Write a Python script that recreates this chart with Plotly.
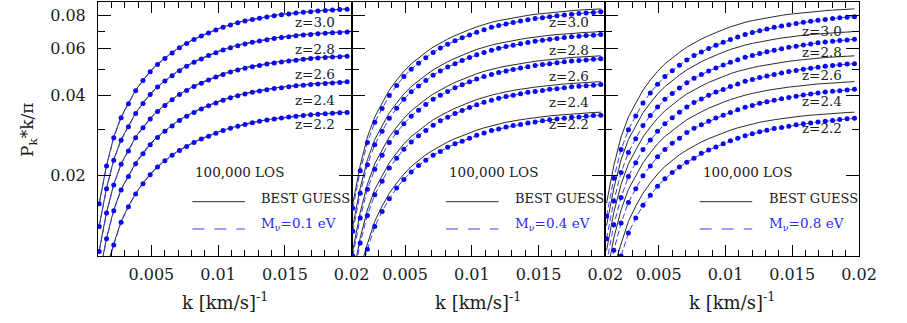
import math

import plotly.graph_objects as go

# k grid (km/s)^-1, same for every curve
K = [0.00109, 0.00164, 0.00218, 0.00273, 0.00328, 0.00382, 0.00437, 0.00491,
     0.00546, 0.00601, 0.00655, 0.00710, 0.00764, 0.00819, 0.00874, 0.00928,
     0.00983, 0.01037, 0.01092, 0.01147, 0.01201, 0.01256, 0.01310, 0.01365,
     0.01420, 0.01474, 0.01529, 0.01583, 0.01638, 0.01693, 0.01747, 0.01802,
     0.01856, 0.01911, 0.01966]

Z_LABELS = ["z=3.0", "z=2.8", "z=2.6", "z=2.4", "z=2.2"]
MNU_LABELS = ["0.1", "0.4", "0.8"]

# BEST GUESS (black lines), same in the three panels
BEST_Z30 = [0.0158, 0.0219, 0.0280, 0.0333, 0.0375, 0.0420, 0.0458, 0.0494, 0.0527, 0.0555,
            0.0582, 0.0609, 0.0632, 0.0653, 0.0673, 0.0692, 0.0709, 0.0726, 0.0741, 0.0755,
            0.0766, 0.0776, 0.0785, 0.0794, 0.0802, 0.0809, 0.0815, 0.0821, 0.0826, 0.0831,
            0.0835, 0.0839, 0.0842, 0.0845, 0.0848]
BEST_Z28 = [0.0130, 0.0180, 0.0230, 0.0274, 0.0308, 0.0345, 0.0376, 0.0406, 0.0433, 0.0456,
            0.0478, 0.0500, 0.0519, 0.0537, 0.0553, 0.0569, 0.0583, 0.0597, 0.0609, 0.0620,
            0.0629, 0.0638, 0.0645, 0.0652, 0.0659, 0.0665, 0.0670, 0.0675, 0.0679, 0.0683,
            0.0687, 0.0689, 0.0692, 0.0694, 0.0697]
BEST_Z26 = [0.0105, 0.0146, 0.0186, 0.0222, 0.0250, 0.0280, 0.0305, 0.0329, 0.0351, 0.0370,
            0.0388, 0.0406, 0.0421, 0.0435, 0.0449, 0.0461, 0.0472, 0.0484, 0.0494, 0.0503,
            0.0510, 0.0517, 0.0523, 0.0529, 0.0534, 0.0539, 0.0543, 0.0547, 0.0550, 0.0554,
            0.0557, 0.0559, 0.0561, 0.0563, 0.0565]
BEST_Z24 = [0.0084, 0.0117, 0.0149, 0.0178, 0.0200, 0.0224, 0.0244, 0.0264, 0.0281, 0.0296,
            0.0310, 0.0325, 0.0337, 0.0348, 0.0359, 0.0369, 0.0378, 0.0387, 0.0395, 0.0402,
            0.0408, 0.0414, 0.0419, 0.0423, 0.0428, 0.0431, 0.0434, 0.0438, 0.0440, 0.0443,
            0.0445, 0.0447, 0.0449, 0.0450, 0.0452]
BEST_Z22 = [0.0065, 0.0090, 0.0111, 0.0135, 0.0154, 0.0172, 0.0188, 0.0203, 0.0217, 0.0229,
            0.0240, 0.0250, 0.0259, 0.0268, 0.0276, 0.0283, 0.0290, 0.0297, 0.0303, 0.0309,
            0.0313, 0.0318, 0.0322, 0.0325, 0.0328, 0.0331, 0.0334, 0.0336, 0.0338, 0.0340,
            0.0342, 0.0343, 0.0345, 0.0346, 0.0347]

# M_nu = 0.1 eV (blue dots, left panel)
MNU01_Z30 = [0.0157, 0.0218, 0.0278, 0.0331, 0.0373, 0.0418, 0.0456, 0.0492, 0.0524, 0.0552,
             0.0579, 0.0606, 0.0629, 0.0650, 0.0670, 0.0689, 0.0706, 0.0723, 0.0738, 0.0752,
             0.0763, 0.0773, 0.0782, 0.0791, 0.0799, 0.0806, 0.0812, 0.0818, 0.0823, 0.0828,
             0.0832, 0.0836, 0.0840, 0.0843, 0.0846]
MNU01_Z28 = [0.0129, 0.0179, 0.0229, 0.0272, 0.0306, 0.0343, 0.0374, 0.0404, 0.0431, 0.0454,
             0.0476, 0.0497, 0.0516, 0.0534, 0.0550, 0.0566, 0.0580, 0.0594, 0.0606, 0.0617,
             0.0626, 0.0635, 0.0642, 0.0649, 0.0656, 0.0662, 0.0667, 0.0672, 0.0676, 0.0680,
             0.0684, 0.0687, 0.0690, 0.0692, 0.0695]
MNU01_Z26 = [0.0104, 0.0145, 0.0185, 0.0221, 0.0248, 0.0278, 0.0303, 0.0327, 0.0349, 0.0368,
             0.0386, 0.0404, 0.0419, 0.0433, 0.0446, 0.0458, 0.0470, 0.0481, 0.0491, 0.0500,
             0.0507, 0.0514, 0.0520, 0.0526, 0.0531, 0.0536, 0.0540, 0.0544, 0.0548, 0.0552,
             0.0555, 0.0557, 0.0559, 0.0561, 0.0563]
MNU01_Z24 = [0.0083, 0.0116, 0.0148, 0.0177, 0.0199, 0.0222, 0.0242, 0.0262, 0.0279, 0.0294,
             0.0308, 0.0323, 0.0335, 0.0346, 0.0357, 0.0367, 0.0376, 0.0385, 0.0393, 0.0400,
             0.0406, 0.0412, 0.0417, 0.0421, 0.0426, 0.0429, 0.0432, 0.0436, 0.0438, 0.0441,
             0.0443, 0.0445, 0.0447, 0.0449, 0.0451]
MNU01_Z22 = [0.0065, 0.0089, 0.0110, 0.0134, 0.0153, 0.0171, 0.0187, 0.0202, 0.0216, 0.0228,
             0.0239, 0.0249, 0.0258, 0.0267, 0.0275, 0.0282, 0.0289, 0.0296, 0.0302, 0.0307,
             0.0312, 0.0317, 0.0321, 0.0324, 0.0327, 0.0330, 0.0333, 0.0335, 0.0337, 0.0339,
             0.0341, 0.0342, 0.0344, 0.0345, 0.0346]

# M_nu = 0.4 eV (middle panel)
MNU04_Z30 = [0.0151, 0.0209, 0.0267, 0.0318, 0.0358, 0.0401, 0.0437, 0.0472, 0.0503, 0.0530,
             0.0556, 0.0582, 0.0604, 0.0624, 0.0643, 0.0661, 0.0677, 0.0693, 0.0708, 0.0723,
             0.0734, 0.0744, 0.0754, 0.0763, 0.0772, 0.0780, 0.0786, 0.0793, 0.0799, 0.0805,
             0.0810, 0.0815, 0.0818, 0.0822, 0.0827]
MNU04_Z28 = [0.0124, 0.0172, 0.0220, 0.0262, 0.0294, 0.0329, 0.0359, 0.0388, 0.0414, 0.0435,
             0.0456, 0.0478, 0.0496, 0.0513, 0.0528, 0.0543, 0.0557, 0.0570, 0.0582, 0.0593,
             0.0603, 0.0612, 0.0619, 0.0627, 0.0634, 0.0641, 0.0647, 0.0652, 0.0657, 0.0662,
             0.0666, 0.0669, 0.0673, 0.0675, 0.0680]
MNU04_Z26 = [0.0100, 0.0139, 0.0178, 0.0212, 0.0239, 0.0267, 0.0291, 0.0314, 0.0335, 0.0353,
             0.0371, 0.0388, 0.0402, 0.0415, 0.0429, 0.0440, 0.0451, 0.0462, 0.0472, 0.0481,
             0.0489, 0.0496, 0.0502, 0.0508, 0.0514, 0.0520, 0.0524, 0.0528, 0.0532, 0.0537,
             0.0540, 0.0543, 0.0545, 0.0548, 0.0551]
MNU04_Z24 = [0.0080, 0.0112, 0.0142, 0.0170, 0.0191, 0.0214, 0.0233, 0.0252, 0.0268, 0.0283,
             0.0296, 0.0310, 0.0322, 0.0332, 0.0343, 0.0352, 0.0361, 0.0370, 0.0378, 0.0385,
             0.0391, 0.0397, 0.0402, 0.0407, 0.0412, 0.0415, 0.0419, 0.0423, 0.0425, 0.0429,
             0.0432, 0.0434, 0.0436, 0.0438, 0.0441]
MNU04_Z22 = [0.0062, 0.0086, 0.0106, 0.0129, 0.0147, 0.0164, 0.0180, 0.0194, 0.0207, 0.0219,
             0.0229, 0.0239, 0.0247, 0.0256, 0.0264, 0.0270, 0.0277, 0.0284, 0.0290, 0.0296,
             0.0300, 0.0305, 0.0309, 0.0312, 0.0316, 0.0319, 0.0322, 0.0325, 0.0327, 0.0329,
             0.0332, 0.0333, 0.0335, 0.0337, 0.0338]

# M_nu = 0.8 eV (right panel)
MNU08_Z30 = [0.0141, 0.0196, 0.0251, 0.0298, 0.0336, 0.0376, 0.0410, 0.0442, 0.0472, 0.0497,
             0.0521, 0.0545, 0.0566, 0.0584, 0.0602, 0.0619, 0.0635, 0.0650, 0.0665, 0.0680,
             0.0691, 0.0702, 0.0712, 0.0723, 0.0731, 0.0740, 0.0747, 0.0755, 0.0762, 0.0769,
             0.0774, 0.0780, 0.0785, 0.0789, 0.0793]
MNU08_Z28 = [0.0116, 0.0161, 0.0206, 0.0245, 0.0276, 0.0309, 0.0337, 0.0363, 0.0388, 0.0408,
             0.0428, 0.0448, 0.0465, 0.0481, 0.0495, 0.0509, 0.0522, 0.0534, 0.0546, 0.0558,
             0.0567, 0.0577, 0.0585, 0.0593, 0.0601, 0.0608, 0.0614, 0.0621, 0.0626, 0.0632,
             0.0637, 0.0641, 0.0645, 0.0648, 0.0652]
MNU08_Z26 = [0.0094, 0.0131, 0.0166, 0.0199, 0.0224, 0.0251, 0.0273, 0.0294, 0.0314, 0.0331,
             0.0347, 0.0363, 0.0377, 0.0389, 0.0402, 0.0413, 0.0422, 0.0433, 0.0443, 0.0453,
             0.0460, 0.0468, 0.0474, 0.0481, 0.0487, 0.0493, 0.0498, 0.0503, 0.0507, 0.0512,
             0.0516, 0.0520, 0.0523, 0.0526, 0.0528]
MNU08_Z24 = [0.0075, 0.0105, 0.0133, 0.0159, 0.0179, 0.0200, 0.0218, 0.0236, 0.0251, 0.0265,
             0.0277, 0.0291, 0.0302, 0.0311, 0.0321, 0.0330, 0.0338, 0.0346, 0.0354, 0.0362,
             0.0368, 0.0375, 0.0380, 0.0385, 0.0390, 0.0394, 0.0398, 0.0403, 0.0406, 0.0410,
             0.0413, 0.0416, 0.0418, 0.0420, 0.0423]
MNU08_Z22 = [0.0059, 0.0081, 0.0100, 0.0122, 0.0139, 0.0155, 0.0169, 0.0183, 0.0195, 0.0206,
             0.0216, 0.0225, 0.0233, 0.0243, 0.0250, 0.0257, 0.0264, 0.0271, 0.0277, 0.0283,
             0.0288, 0.0293, 0.0297, 0.0301, 0.0304, 0.0307, 0.0311, 0.0314, 0.0316, 0.0319,
             0.0321, 0.0323, 0.0326, 0.0328, 0.0329]

BEST = [BEST_Z30, BEST_Z28, BEST_Z26, BEST_Z24, BEST_Z22]
MNU = [
    [MNU01_Z30, MNU01_Z28, MNU01_Z26, MNU01_Z24, MNU01_Z22],
    [MNU04_Z30, MNU04_Z28, MNU04_Z26, MNU04_Z24, MNU04_Z22],
    [MNU08_Z30, MNU08_Z28, MNU08_Z26, MNU08_Z24, MNU08_Z22],
]

# --- page geometry (pixels) -------------------------------------------------
W, H = 907, 323
ML, MR, MT, MB = 98, 48, 2, 67
PLOT_H = H - MT - MB
PLOT_W = W - ML - MR


def py(pix):
    """pixel row -> paper y"""
    return (H - MB - pix) / PLOT_H


def px(pix):
    """pixel column -> paper x"""
    return (pix - ML) / PLOT_W


FONT = "DejaVu Serif"
TXT = "#1a1a1a"
BLUE_DOT = "#0a0aee"
BLUE_LINE = "#3c3cff"

# vertical pixel rows of the z=... labels in each panel
Z_ROWS = [[22, 48.5, 73.5, 99.5, 124],
          [22.5, 49.5, 76, 102.5, 124],
          [30.5, 51.5, 75, 101.5, 127.5]]

fig = go.Figure()
domains = [[0, 1 / 3], [1 / 3, 2 / 3], [2 / 3, 1]]
annotations = []
shapes = []

for i in range(3):
    sfx = "" if i == 0 else str(i + 1)
    xa, ya = "x" + sfx, "y" + sfx

    for curva in BEST:
        fig.add_trace(go.Scatter(
            x=K, y=curva, xaxis=xa, yaxis=ya, mode="lines",
            line=dict(color="#2b2b2b", width=1), hoverinfo="skip",
            showlegend=False))
    for curva in MNU[i]:
        fig.add_trace(go.Scatter(
            x=K, y=curva, xaxis=xa, yaxis=ya, mode="lines+markers",
            line=dict(color=BLUE_LINE, width=1, dash="6px,3px"),
            marker=dict(color=BLUE_DOT, size=5),
            hoverinfo="skip", showlegend=False))

    fig.layout["xaxis" + sfx] = dict(
        domain=domains[i], anchor=ya, range=[0.001, 0.02],
        tickvals=[0.005, 0.01, 0.015, 0.02],
        ticktext=["0.005", "0.01", "0.015", "0.02"],
        ticks="inside", ticklen=11, tickwidth=1, tickcolor="black",
        minor=dict(dtick=0.001, tick0=0, ticks="inside", ticklen=6,
                   tickwidth=1, tickcolor="black"),
        mirror="allticks", showline=True, linecolor="black", linewidth=1,
        showgrid=False, zeroline=False, ticklabelstandoff=4,
        tickfont=dict(family=FONT, size=16, color=TXT),
    )
    fig.layout["yaxis" + sfx] = dict(
        anchor=xa, type="log", range=[-2, math.log10(0.09)],
        tickvals=[0.02, 0.04, 0.06, 0.08],
        ticktext=["0.02", "0.04", "0.06", "0.08"],
        ticks="inside", ticklen=13, tickwidth=1, tickcolor="black",
        minor=dict(tickvals=[0.03, 0.05, 0.07], ticks="inside", ticklen=7,
                   tickwidth=1, tickcolor="black"),
        mirror="allticks", showline=True, linecolor="black", linewidth=1,
        showgrid=False, zeroline=False, showticklabels=(i == 0),
        ticklabelstandoff=8,
        tickfont=dict(family=FONT, size=16, color=TXT),
    )

    # z labels
    for lab, row in zip(Z_LABELS, Z_ROWS[i]):
        annotations.append(dict(
            x=0.0189, xref=xa, y=py(row), yref="paper", text=lab,
            showarrow=False, xanchor="right", yanchor="middle",
            font=dict(family=FONT, size=13.5, color=TXT)))

    dom = xa + " domain"
    annotations += [
        dict(x=0.376, xref=dom, y=py(171.7), yref="paper",
             text="100,000 LOS", showarrow=False, xanchor="left",
             yanchor="middle", font=dict(family=FONT, size=13.5, color=TXT)),
        dict(x=0.636, xref=dom, y=py(198.3), yref="paper",
             text="BEST GUESS", showarrow=False, xanchor="left",
             yanchor="middle", font=dict(family=FONT, size=13, color=TXT)),
        dict(x=0.636, xref=dom, y=py(224), yref="paper",
             text=f"M<sub>ν</sub>=0.{MNU_LABELS[i][-1]} eV", showarrow=False,
             xanchor="left", yanchor="middle",
             font=dict(family=FONT, size=13.5, color="#2a2aff")),
        dict(x=0.5, xref=dom, y=py(301), yref="paper",
             text="k [km/s]<sup>-1</sup>", showarrow=False,
             xanchor="center", yanchor="middle",
             font=dict(family=FONT, size=18, color=TXT)),
    ]
    shapes += [
        dict(type="line", xref=dom, yref="paper", x0=0.372, x1=0.579,
             y0=py(201.7), y1=py(201.7), line=dict(color="#2b2b2b", width=1)),
        dict(type="line", xref=dom, yref="paper", x0=0.372, x1=0.579,
             y0=py(229), y1=py(229),
             line=dict(color=BLUE_LINE, width=1, dash="12px,10px")),
    ]

annotations.append(dict(
    x=px(28), xref="paper", y=py(130), yref="paper",
    text="P<sub>k</sub>*k/π", textangle=-90, showarrow=False,
    xanchor="center", yanchor="middle",
    font=dict(family=FONT, size=17, color=TXT)))

fig.update_layout(
    width=W, height=H, margin=dict(l=ML, r=MR, t=MT, b=MB, pad=0),
    plot_bgcolor="white", paper_bgcolor="white",
    annotations=annotations, shapes=shapes, showlegend=False,
)

# the page body has a default 8px margin; drop it so the figure sits at 0,0
fig.write_html("out.html", config={"displayModeBar": False},
               post_script="document.body.style.margin='0';"
                           "document.body.style.overflow='hidden';")
